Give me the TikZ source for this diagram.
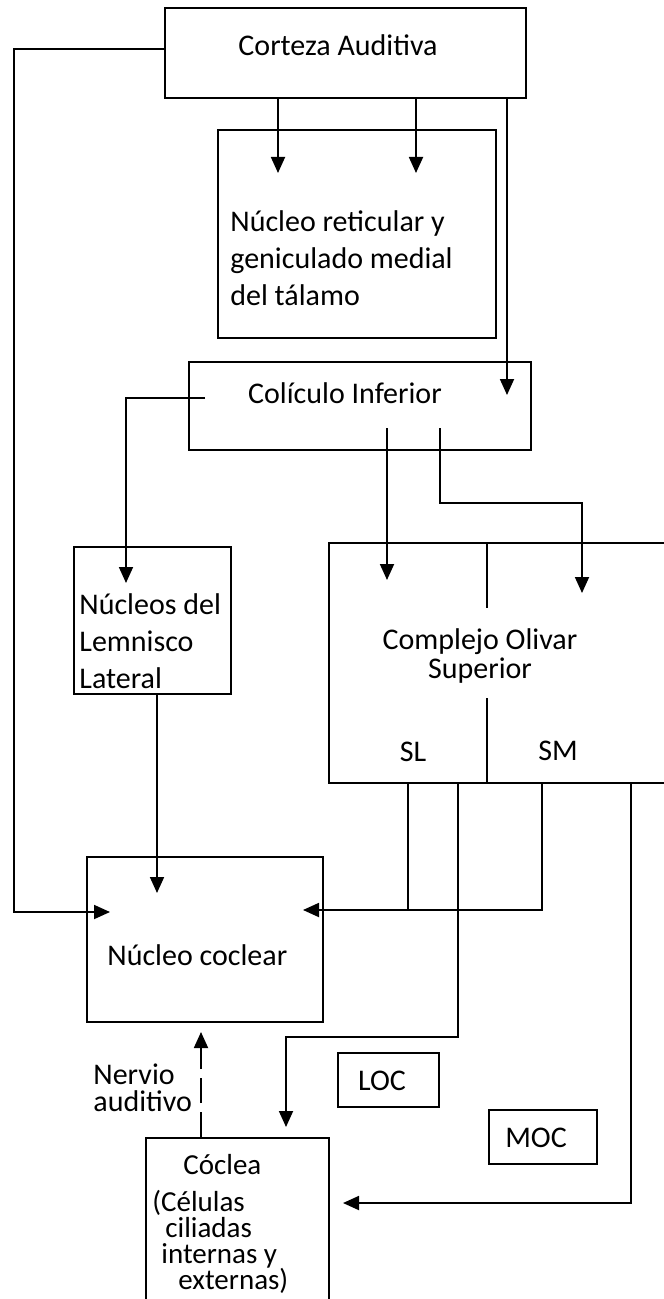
\documentclass[tikz,border=0pt]{standalone}
\usepackage{fontspec}
\setmainfont{Carlito}
\usetikzlibrary{arrows.meta,fit}
\begin{document}
\begin{tikzpicture}[x=0.5pt,y=-0.5pt,
  box/.style={draw,line width=0.9pt,inner sep=0pt},
  lbl/.style={inner sep=0pt,font=\fontsize{15}{18.5}\selectfont},
  conn/.style={line width=0.9pt},
  arr/.style={conn,-{Triangle[length=8pt,width=7pt]}},
  nerve/.style={arr,dash pattern=on 12.5pt off 4.5pt}]
\useasboundingbox (0,0) rectangle (663,1299);
% boxes
\node[box,fit={(165,8)(526,98)}] (cort) {};
\node[box,fit={(218,130)(496,338)}] (ret) {};
\node[box,fit={(189,362)(531,450)}] (col) {};
\node[box,fit={(74,547)(231,694)}] (lem) {};
\node[box,fit={(329,543)(672,783)}] (olv) {};
\node[box,fit={(87,857)(323,1022)}] (coc) {};
\node[box,fit={(338,1053)(439,1107)}] (loc) {};
\node[box,fit={(489,1110)(597,1164)}] (moc) {};
\node[box,fit={(146,1138)(329,1312)}] (cocl) {};
% texts
\node[lbl] (tcort) at (338,45) {Corteza Auditiva};
\node[lbl,anchor=west,align=left] (tret) at (230,258) {Núcleo reticular y\\geniculado medial\\del tálamo};
\node[lbl] (tcol) at (345,393) {Colículo Inferior};
\node[lbl,anchor=west,align=left] (tlem) at (79,641) {Núcleos del\\Lemnisco\\Lateral};
\node[lbl,align=center,font=\fontsize{15}{14.5}\selectfont] (tolv) at (480,656) {Complejo Olivar\\Superior};
\node[lbl] (tsl) at (413,752) {SL};
\node[lbl] (tsm) at (558,751) {SM};
\node[lbl,anchor=west] (tcoc) at (107,955) {Núcleo coclear};
\node[lbl] (tloc) at (382,1081) {LOC};
\node[lbl] (tmoc) at (536,1138) {MOC};
\node[lbl,anchor=west,align=left,font=\fontsize{15}{13.5}\selectfont] (tnerv) at (93,1088) {Nervio\\auditivo};
\node[lbl,anchor=north west,align=left,font=\fontsize{14.5}{13}\selectfont] (tcocl) at (152,1154)
  {\hspace*{15.5pt}Cóclea\\[5.5pt](Células\\\hspace*{6.5pt}ciliadas\\\hspace*{4.5pt}internas y\\\hspace*{13pt}externas)};
% dividers of the olivary complex
\coordinate (d1) at (487,608);
\coordinate (d2) at (487,698);
\draw[conn] (olv.north -| d1) -- (d1);
\draw[conn] (d2) -- (olv.south -| d2);
% connectors
\coordinate (p1) at (14,49);
\coordinate (p2) at (14,912);
\coordinate (e1) at (110,912);
\draw[arr] (cort.west |- p1) -- (p1) -- (p2) -- (e1);
\coordinate (e2) at (278,173);
\coordinate (e3) at (416,173);
\draw[arr] (cort.south -| e2) -- (e2);
\draw[arr] (cort.south -| e3) -- (e3);
\coordinate (e4) at (507,395);
\draw[arr] (cort.south -| e4) -- (e4);
\coordinate (s5) at (205,398);
\coordinate (e5) at (126,583);
\draw[arr] (s5) -| (e5);
\coordinate (s6) at (387,428);
\coordinate (e6) at (387,580);
\draw[arr] (s6) -- (e6);
\coordinate (s7) at (440,428);
\coordinate (k7) at (582,503);
\coordinate (e7) at (582,593);
\draw[arr] (s7) |- (k7) -- (e7);
\coordinate (e8) at (157,893);
\draw[arr] (lem.south -| e8) -- (e8);
\coordinate (j9) at (408,910);
\coordinate (k9) at (542,910);
\coordinate (e9) at (303,910);
\draw[conn] (olv.south -| j9) -- (j9);
\draw[arr] (olv.south -| k9) -- (k9) -- (e9);
\coordinate (k10) at (458,1037);
\coordinate (e10) at (286,1127);
\draw[arr] (olv.south -| k10) -- (k10) -| (e10);
\coordinate (k11) at (631,1203);
\coordinate (e11) at (343,1203);
\draw[arr] (olv.south -| k11) -- (k11) -- (e11);
\coordinate (e12) at (201,1032);
\draw[nerve] (cocl.north -| e12) -- (e12);
\end{tikzpicture}
\end{document}
